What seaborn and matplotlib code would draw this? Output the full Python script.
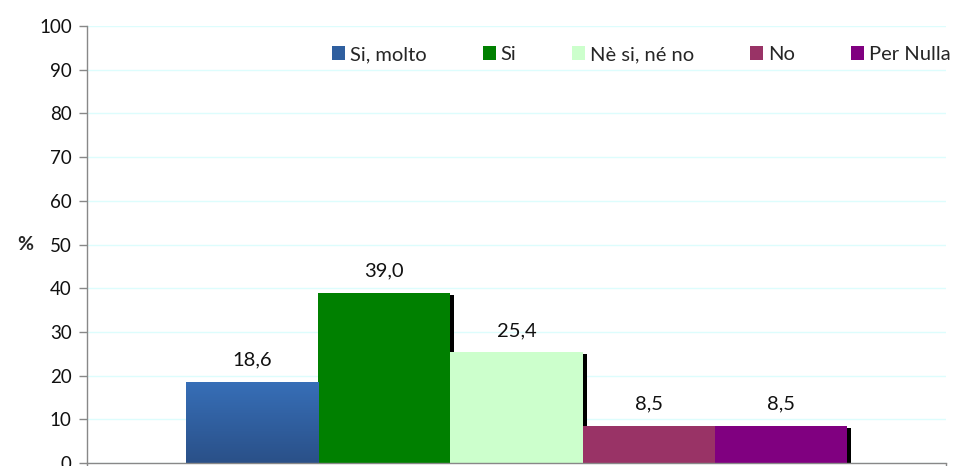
import numpy as np
import pandas as pd
import matplotlib
matplotlib.use("Agg")
import matplotlib.pyplot as plt
import matplotlib.transforms as mtransforms
from matplotlib.patches import Rectangle
from matplotlib.colors import LinearSegmentedColormap
import seaborn as sns

categories = ["Si, molto", "Si", "Nè si, né no", "No", "Per Nulla"]
values = [18.6, 39.0, 25.4, 8.5, 8.5]
colors = ["#3268B0", "#008000", "#CCFFCC", "#993366", "#800080"]
yticks = list(range(0, 101, 10))

df = pd.DataFrame({"grp": [""] * len(categories), "risposta": categories, "pct": values})

sns.set_style("white")
plt.rcParams["font.family"] = ["Lato", "DejaVu Sans"]

fig = plt.figure(figsize=(9.61, 4.66), dpi=100)
ax = fig.add_axes([0.0905, 0.0064, 0.894, 0.9378])

sns.barplot(data=df, x="grp", y="pct", hue="risposta", hue_order=categories,
            palette=colors, width=0.77, dodge=True, saturation=1,
            linewidth=0, legend=False, ax=ax)

ax.set_xlim(-0.5, 0.5)
ax.set_ylim(0, 100)
ax.set_yticks(yticks)
ax.set_yticklabels([str(t) for t in yticks], fontsize=13.5, color="#111111")
ax.set_xticks([-0.5, 0.5])
ax.set_xticklabels(["", ""])
ax.tick_params(axis="y", length=6, width=1, color="#888888", pad=5, left=True)
ax.tick_params(axis="x", length=5, width=1, color="#888888", bottom=True)
ax.grid(axis="y", color="#DDFDFD", linewidth=1)
ax.set_axisbelow(True)
ax.set_xlabel("")
ax.set_ylabel("%", rotation=0, fontsize=14, fontweight="bold", labelpad=10, va="center")
for s in ["top", "right"]:
    ax.spines[s].set_visible(False)
for s in ["left", "bottom"]:
    ax.spines[s].set_color("#888888")
    ax.spines[s].set_linewidth(1)

bars = ax.patches[:len(categories)]
shift = mtransforms.ScaledTranslation(4 / 100, -2 / 100, fig.dpi_scale_trans)
for bar, v in zip(bars, values):
    bar.set_zorder(2)
    sh = Rectangle(bar.get_xy(), bar.get_width(), bar.get_height(),
                   facecolor="black", edgecolor="none", zorder=1.5,
                   transform=ax.transData + shift)
    ax.add_patch(sh)
    ax.text(bar.get_x() + bar.get_width() / 2, v + 3.0, f"{v:.1f}".replace(".", ","),
            ha="center", va="bottom", fontsize=14.5, color="#111111")

# gradient on the first bar
b0 = bars[0]
cmap = LinearSegmentedColormap.from_list("blu", ["#2A5088", "#376FB8"])
grad = np.linspace(0, 1, 256).reshape(-1, 1)
x0, y0 = b0.get_xy()
im = ax.imshow(grad, cmap=cmap, origin="lower", aspect="auto",
               extent=[x0, x0 + b0.get_width(), y0, y0 + b0.get_height()], zorder=2.1)
im.set_clip_path(b0)
ax.set_xlim(-0.5, 0.5)
ax.set_ylim(0, 100)

handles = [Rectangle((0, 0), 1, 1, facecolor=c, edgecolor="none") for c in colors]
handles[0] = Rectangle((0, 0), 1, 1, facecolor="#2F5F9F", edgecolor="none")
ax.legend(handles, categories, loc="center left", bbox_to_anchor=(0.276, 0.935),
          ncol=5, frameon=False, fontsize=14.5, handlelength=0.65, handleheight=0.65,
          handletextpad=0.22, columnspacing=2.8, borderaxespad=0)

fig.savefig("out.png", dpi=100)
